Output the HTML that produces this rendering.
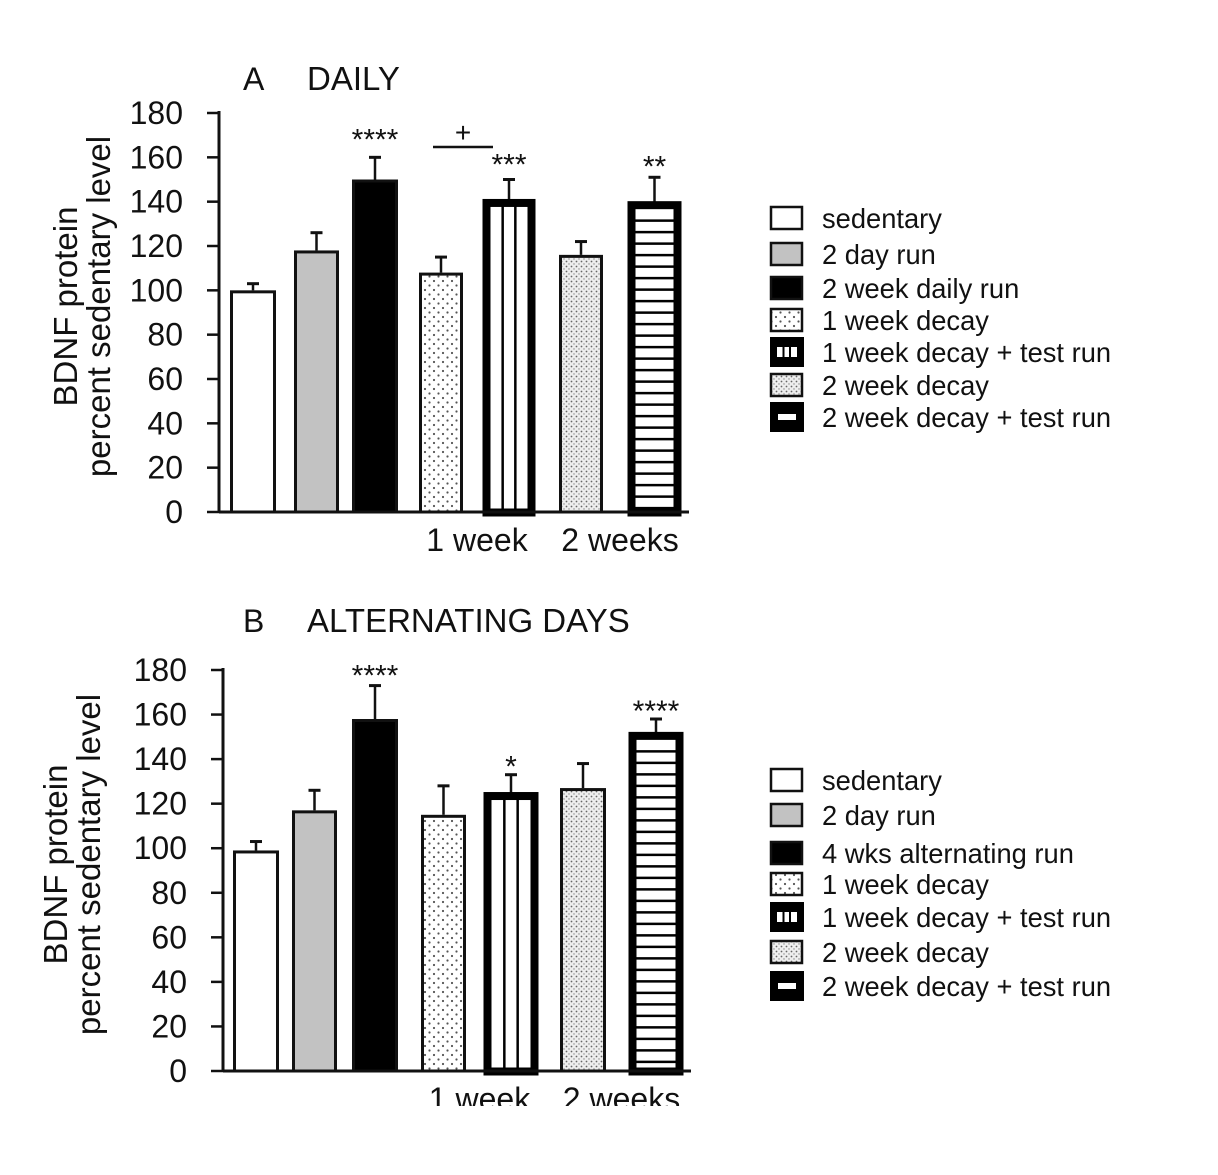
<!DOCTYPE html>
<html><head><meta charset="utf-8"><style>
body{margin:0;background:#fff}
text{font-family:"Liberation Sans",Arial,sans-serif;fill:#111}
</style></head><body>
<svg id="s" width="1218" height="1170" viewBox="0 0 1218 1170">
<defs>
<pattern id="dots1" width="9" height="9" patternUnits="userSpaceOnUse"><rect width="9" height="9" fill="#fff"/><circle cx="2" cy="2" r="1.1" fill="#555"/><circle cx="6.5" cy="6.5" r="1.1" fill="#555"/></pattern>
<pattern id="dots2" width="5" height="5" patternUnits="userSpaceOnUse"><rect width="5" height="5" fill="#eee"/><circle cx="1.5" cy="1.5" r="0.9" fill="#666"/><circle cx="4" cy="4" r="0.7" fill="#888"/></pattern>
</defs>
</svg>
<script>
const categories=["sedentary","2 day run","2 week daily run","1 week decay","1 week decay + test run","2 week decay","2 week decay + test run"];
const categoriesB=["sedentary","2 day run","4 wks alternating run","1 week decay","1 week decay + test run","2 week decay","2 week decay + test run"];
const valuesA=[100,118,150,108,141,116,140];
const errorsA=[3,8,10,7,9,6,11];
const starsA=["","","****","","***","","**"];
const valuesB=[99,117,158,115,125,127,152];
const errorsB=[4,9,15,13,8,11,6];
const starsB=["","","****","","*","","****"];
const ticks=[0,20,40,60,80,100,120,140,160,180];
const groupLabels=["1 week","2 weeks"];
const NS="http://www.w3.org/2000/svg",svg=document.getElementById('s');
function el(t,a,p){const e=document.createElementNS(NS,t);for(const k in a)e.setAttribute(k,a[k]);(p||svg).appendChild(e);return e;}
const styles=["white","gray","black","dots1","vstripe","dots2","hstripe"];
function panel(cfg){
  const g=el('g',{});
  const y=v=>cfg.base-v*(cfg.base-cfg.top)/180;
  const ax=cfg.axisX;
  const t1=el('text',{x:243,y:cfg.titleY,'font-size':32},g);t1.textContent=cfg.letter;
  const t2=el('text',{x:307,y:cfg.titleY,'font-size':33},g);t2.textContent=cfg.title;
  const yt=el('text',{transform:`translate(${cfg.ytX},${(cfg.base+cfg.top)/2-6}) rotate(-90)`,'text-anchor':'middle','font-size':33},g);
  
  const ts1=el('tspan',{x:0,dy:0},yt);ts1.textContent="BDNF protein";
  const ts2=el('tspan',{x:0,dy:33},yt);ts2.textContent="percent sedentary level";
  ticks.forEach(v=>{
    const l=el('line',{x1:ax-12,x2:ax,y1:y(v),y2:y(v),stroke:'#111','stroke-width':2.5},g);
    const tx=el('text',{x:ax-36,y:y(v)+11,'text-anchor':'end','font-size':32},g);tx.textContent=v;
  });
  const axl=el('line',{x1:ax,x2:ax,y1:cfg.top-2,y2:cfg.base+1,stroke:'#111','stroke-width':3},g);
  cfg.vals.forEach((v,i)=>{
    const [x0,x1]=cfg.bx[i];const top=y(v),bot=cfg.base;const st=styles[i];
    const et=y(v+cfg.errs[i]);const cx=(x0+x1)/2;
    const e1=el('line',{x1:cx,x2:cx,y1:top,y2:et,stroke:'#111','stroke-width':2.5},g);
    const e2=el('line',{x1:cx-6,x2:cx+6,y1:et,y2:et,stroke:'#111','stroke-width':3},g);
    let r;
    if(st==='vstripe'||st==='hstripe'){
      r=el('rect',{x:x0+3.5,y:top+3.5,width:x1-x0-7,height:bot+4-top-7,fill:'#fff',stroke:'#000','stroke-width':8},g);
      const w=x1-x0-14;
      if(st==='vstripe'){[1,2].forEach(k=>{const ln=el('line',{x1:x0+7+w*k/3,x2:x0+7+w*k/3,y1:top+7,y2:bot,stroke:'#000','stroke-width':2.5},g);});}
      else{for(let yy=top+19;yy<bot;yy+=11.5){const ln=el('line',{x1:x0+7,x2:x1-7,y1:yy,y2:yy,stroke:'#000','stroke-width':2.5},g);}}
    }else{
      const fill=st==='white'?'#fff':st==='gray'?'#c2c2c2':st==='black'?'#000':`url(#${st})`;
      r=el('rect',{x:x0+1.5,y:top+1.5,width:x1-x0-3,height:bot-top-1.5,fill:fill,stroke:'#111','stroke-width':3},g);
    }
    
    if(cfg.stars[i]){const s=el('text',{x:cx,y:et-cfg.starOff[i]+4,'text-anchor':'middle','font-size':30},g);s.textContent=cfg.stars[i];}
  });
  const bl=el('line',{x1:ax,x2:cfg.bx[6][1]+8,y1:cfg.base,y2:cfg.base,stroke:'#111','stroke-width':3},g);
  groupLabels.forEach((lab,k)=>{const gx=k===0?(cfg.bx[3][0]+cfg.bx[4][1])/2:(cfg.bx[5][0]+cfg.bx[6][1])/2;
    const t=el('text',{x:gx,y:cfg.base+39,'text-anchor':'middle','font-size':32},g);t.textContent=lab;});
  cfg.legY.forEach((ly,i)=>{
    const st=styles[i];let r;
    if(st==='vstripe'||st==='hstripe'){
      r=el('rect',{x:770,y:ly-15,width:34,height:30,fill:'#000'},g);
      if(st==='vstripe'){const i2=el('rect',{x:777,y:ly-5,width:20,height:10,fill:'#fff'},g);
        [783.5,790].forEach(xx=>{const l=el('line',{x1:xx,x2:xx,y1:ly-5,y2:ly+5,stroke:'#000','stroke-width':2},g);});}
      else{const i2=el('rect',{x:778,y:ly-3,width:18,height:6,fill:'#fff'},g);}
    }else{
      const fill=st==='white'?'#fff':st==='gray'?'#c2c2c2':st==='black'?'#000':`url(#${st})`;
      r=el('rect',{x:771,y:ly-11,width:31,height:22,fill:fill,stroke:'#111','stroke-width':2.5},g);
    }
    
    const t=el('text',{x:822,y:ly+10,'font-size':27.3},g);t.textContent=cfg.cats[i];
  });
  return y;
}
panel({name:'panel-a-daily',letter:'A',title:'DAILY',titleY:90,axisX:219,top:113,base:512,ytX:77,
  bx:[[230,276],[294,339],[352,398],[419,463],[483,535],[559,603],[628,681]],vals:valuesA,errs:errorsA,stars:starsA,starOff:[0,0,12,0,9,0,5],
  legY:[218,254,288,320,352,385,417],cats:categories});
const sig=el('line',{x1:433,x2:493,y1:147,y2:147,stroke:'#111','stroke-width':2.5});
const pl=el('text',{x:463,y:142,'text-anchor':'middle','font-size':28});pl.textContent='+';
panel({name:'panel-b-alternating',letter:'B',title:'ALTERNATING DAYS',titleY:632,axisX:223,top:670,base:1071,ytX:67,
  bx:[[233,279],[292,337],[352,398],[421,466],[484,538],[560,606],[629,683]],vals:valuesB,errs:errorsB,stars:starsB,starOff:[0,0,4,0,2,0,2],
  legY:[780,815,853,884,917,952,986],cats:categoriesB});
const clip=el('rect',{x:0,y:1106,width:1218,height:64,fill:'#fff'});
</script>
</body></html>
